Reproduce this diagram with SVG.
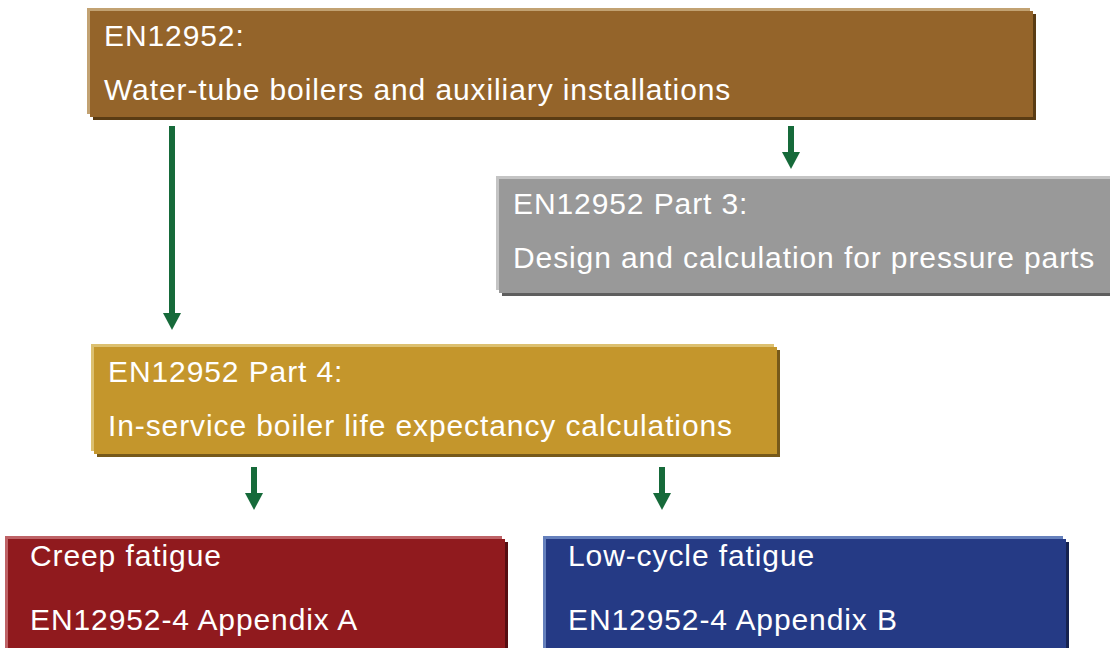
<svg xmlns="http://www.w3.org/2000/svg" width="1110" height="648" viewBox="0 0 1110 648">
  <defs>
    <style>
      .lbl { font-family: "Liberation Sans", Arial, sans-serif; font-size: 30px; fill: #ffffff; letter-spacing: 0.9px; }
      .link { stroke: #166A3A; stroke-width: 6; fill: none; }
      .brown .hi { fill: #C2A272; } .brown .bd { fill: #94642A; } .brown .sh { fill: #5A3C14; }
      .gray .hi { fill: #C4C4C4; } .gray .bd { fill: #999999; } .gray .sh { fill: #5E5E5E; }
      .gold .hi { fill: #DCC070; } .gold .bd { fill: #C4962C; } .gold .sh { fill: #76591A; }
      .red .hi { fill: #BE6266; } .red .bd { fill: #901A1E; } .red .sh { fill: #560E12; }
      .blue .hi { fill: #6580BC; } .blue .bd { fill: #253A85; } .blue .sh { fill: #16224F; }
    </style>
    <marker id="head" markerUnits="userSpaceOnUse" markerWidth="17" markerHeight="18" viewBox="0 0 17 18" refX="0" refY="9" orient="auto">
      <path d="M0,0 L17,9 L0,18 Z" fill="#166A3A"/>
    </marker>
  </defs>

  <rect width="1110" height="648" fill="#ffffff"/>

  <!-- EN12952 top box -->
  <g id="node-en12952" class="brown">
    <rect class="sh" x="93" y="14" width="943" height="106"/>
    <rect class="hi" x="87" y="8" width="943" height="106"/>
    <rect class="bd" x="90" y="11" width="943" height="106"/>
    <text class="lbl" x="104" y="46">EN12952:</text>
    <text class="lbl" x="104" y="100">Water-tube boilers and auxiliary installations</text>
  </g>

  <!-- Part 3 -->
  <g id="node-part3" class="gray">
    <rect class="sh" x="502" y="182" width="620" height="114"/>
    <rect class="hi" x="496" y="176" width="620" height="114"/>
    <rect class="bd" x="499" y="179" width="620" height="114"/>
    <text class="lbl" x="513" y="214">EN12952 Part 3:</text>
    <text class="lbl" x="513" y="268">Design and calculation for pressure parts</text>
  </g>

  <!-- Part 4 -->
  <g id="node-part4" class="gold">
    <rect class="sh" x="97" y="350" width="683" height="107"/>
    <rect class="hi" x="91" y="344" width="683" height="107"/>
    <rect class="bd" x="94" y="347" width="683" height="107"/>
    <text class="lbl" x="108" y="382">EN12952 Part 4:</text>
    <text class="lbl" x="108" y="436">In-service boiler life expectancy calculations</text>
  </g>

  <!-- Appendix A -->
  <g id="node-creep" class="red">
    <rect class="sh" x="11" y="542" width="497" height="120"/>
    <rect class="hi" x="5" y="536" width="497" height="120"/>
    <rect class="bd" x="8" y="539" width="497" height="120"/>
    <text class="lbl" x="30" y="566">Creep fatigue</text>
    <text class="lbl" x="30" y="630">EN12952-4 Appendix A</text>
  </g>

  <!-- Appendix B -->
  <g id="node-lcf" class="blue">
    <rect class="sh" x="549" y="542" width="520" height="120"/>
    <rect class="hi" x="543" y="536" width="520" height="120"/>
    <rect class="bd" x="546" y="539" width="520" height="120"/>
    <text class="lbl" x="568" y="566">Low-cycle fatigue</text>
    <text class="lbl" x="568" y="630">EN12952-4 Appendix B</text>
  </g>

  <!-- connectors -->
  <g id="connectors">
    <path class="link" d="M172,126 V313" marker-end="url(#head)"/>
    <path class="link" d="M791,126 V152" marker-end="url(#head)"/>
    <path class="link" d="M254,467 V493" marker-end="url(#head)"/>
    <path class="link" d="M662,467 V493" marker-end="url(#head)"/>
  </g>
</svg>
